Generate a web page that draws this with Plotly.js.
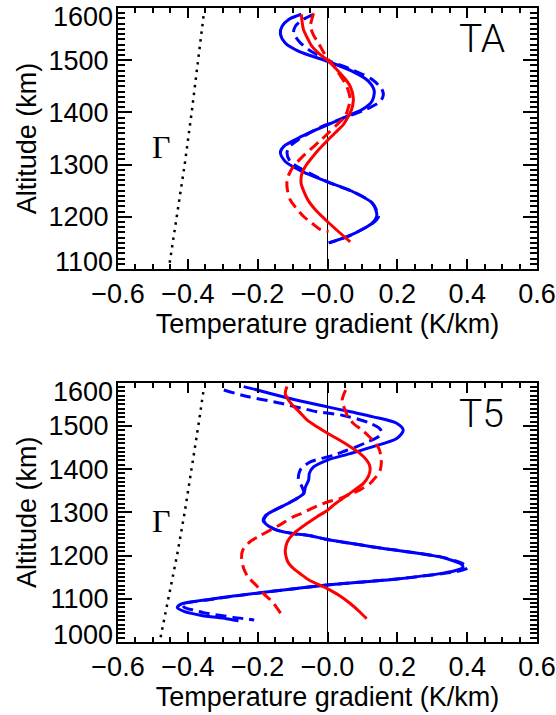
<!DOCTYPE html>
<html>
<head>
<meta charset="utf-8">
<script src="https://cdn.plot.ly/plotly-3.0.1.min.js"></script>
<style>
  html, body { margin: 0; padding: 0; background: #fff; }
  #chart { width: 556px; height: 715px; }
</style>
</head>
<body>
<div id="chart"></div>
<script>
// ---------- Panel TA (top) ----------
const taBlueSolidAlt = [1588,1578,1565,1551,1533,1517,1498,1479,1460,1441,1421,1405,1394,1376,1363,1351,1335,1323,1306,1287,1267,1249,1227,1212,1201,1188,1179,1163,1150];
const taBlueSolidX   = [-0.075,-0.111,-0.130,-0.135,-0.121,-0.082,0.0,0.070,0.117,0.134,0.127,0.098,0.060,0.0,-0.045,-0.083,-0.125,-0.135,-0.121,-0.073,0.0,0.070,0.127,0.139,0.141,0.128,0.108,0.060,0.003];

const taBlueDashAlt = [1588,1578,1565,1552,1535,1520,1498,1482,1463,1445,1434,1421,1405,1393,1381,1370,1348,1335,1323,1306,1290,1267,1249,1227,1212,1200,1188,1179,1163,1150];
const taBlueDashX   = [-0.040,-0.070,-0.092,-0.097,-0.080,-0.054,0.008,0.070,0.128,0.155,0.160,0.151,0.108,0.060,0.015,-0.026,-0.083,-0.108,-0.116,-0.107,-0.070,0.0,0.070,0.128,0.141,0.146,0.130,0.108,0.060,0.005];

const taRedSolidAlt = [1588,1575,1559,1543,1527,1513,1501,1479,1463,1450,1428,1413,1399,1388,1377,1361,1345,1329,1313,1297,1284,1270,1262,1246,1230,1210,1192,1169,1152];
const taRedSolidX   = [-0.075,-0.073,-0.069,-0.058,-0.045,-0.025,-0.002,0.031,0.052,0.065,0.074,0.072,0.065,0.056,0.046,0.022,-0.002,-0.025,-0.045,-0.063,-0.073,-0.076,-0.075,-0.066,-0.054,-0.030,-0.002,0.036,0.065];

const taRedDashAlt = [1590,1578,1565,1548,1533,1516,1501,1485,1476,1450,1425,1410,1393,1377,1361,1345,1329,1313,1297,1282,1271,1252,1233,1217,1201,1188,1176,1172];
const taRedDashX   = [-0.040,-0.045,-0.049,-0.040,-0.026,-0.012,0.003,0.022,0.031,0.055,0.065,0.060,0.051,0.028,0.003,-0.022,-0.049,-0.075,-0.097,-0.110,-0.116,-0.115,-0.107,-0.090,-0.069,-0.045,-0.021,0.003];

const taLapseAlt = [1112,1200,1300,1400,1500,1590];
const taLapseX   = [-0.452,-0.431,-0.409,-0.389,-0.370,-0.354];

// ---------- Panel T5 (bottom) ----------
const t5BlueSolidAlt = [1591,1583,1575,1560,1544,1532,1521,1506,1490,1471,1452,1436,1421,1405,1390,1375,1359,1344,1332,1321,1305,1292,1280,1268,1259,1251,1246,1237,1220,1197,1188,1180,1173,1166,1160,1146,1132,1122,1114,1099,1087,1079,1071,1062,1054,1049];
const t5BlueSolidX   = [-0.240,-0.200,-0.164,-0.090,0.0,0.070,0.131,0.198,0.217,0.198,0.131,0.065,0.0,-0.040,-0.052,-0.054,-0.063,-0.068,-0.088,-0.112,-0.152,-0.178,-0.184,-0.168,-0.145,-0.100,-0.049,0.0,0.131,0.322,0.360,0.383,0.388,0.370,0.335,0.200,0.0,-0.107,-0.192,-0.335,-0.421,-0.430,-0.411,-0.364,-0.290,-0.255];

const t5BlueDashAlt = [1583,1568,1556,1544,1533,1525,1515,1506,1495,1486,1475,1463,1452,1442,1432,1417,1405,1398,1385,1375,1359,1344,1332,1321,1305,1292,1280,1268,1259,1251,1246,1237,1220,1197,1188,1180,1172,1166,1160,1146,1132,1122,1114,1099,1087,1080,1074,1068,1062,1057,1053,1051];
const t5BlueDashX   = [-0.297,-0.230,-0.154,-0.090,-0.030,0.040,0.090,0.122,0.148,0.155,0.146,0.115,0.084,0.050,0.017,-0.049,-0.070,-0.078,-0.083,-0.083,-0.073,-0.068,-0.088,-0.112,-0.152,-0.176,-0.182,-0.166,-0.145,-0.100,-0.050,0.0,0.131,0.325,0.365,0.390,0.402,0.385,0.345,0.200,0.0,-0.107,-0.190,-0.330,-0.415,-0.410,-0.385,-0.355,-0.310,-0.270,-0.230,-0.210];

const t5RedSolidAlt = [1591,1575,1560,1548,1532,1514,1498,1483,1468,1452,1437,1421,1410,1398,1383,1367,1352,1336,1320,1305,1290,1274,1260,1251,1232,1212,1195,1182,1170,1158,1143,1124,1107,1089,1070,1054];
const t5RedSolidX   = [-0.116,-0.121,-0.112,-0.100,-0.080,-0.059,-0.030,0.0,0.033,0.065,0.092,0.112,0.120,0.122,0.117,0.103,0.078,0.050,0.022,0.0,-0.030,-0.059,-0.083,-0.097,-0.115,-0.121,-0.118,-0.111,-0.097,-0.078,-0.052,-0.002,0.035,0.065,0.092,0.112];

const t5RedDashAlt = [1583,1572,1560,1548,1534,1521,1505,1490,1475,1460,1446,1429,1413,1398,1383,1375,1367,1352,1344,1332,1324,1309,1297,1290,1274,1259,1245,1232,1212,1193,1170,1151,1132,1112,1095,1081,1066,1054];
const t5RedDashX   = [0.052,0.046,0.042,0.045,0.052,0.058,0.075,0.100,0.120,0.137,0.148,0.153,0.154,0.151,0.140,0.131,0.122,0.093,0.070,0.036,0.0,-0.045,-0.075,-0.097,-0.130,-0.164,-0.195,-0.222,-0.243,-0.246,-0.240,-0.228,-0.205,-0.183,-0.160,-0.147,-0.134,-0.128];

const t5LapseAlt = [1011,1100,1200,1300,1400,1500,1588];
const t5LapseX   = [-0.478,-0.455,-0.431,-0.409,-0.389,-0.370,-0.354];

// ---------- Axis ticks & labels ----------
const xTickVals = [-0.6,-0.4,-0.2,0.0,0.2,0.4,0.6];
const xTickText = ['\u22120.6','\u22120.4','\u22120.2','\u22120.0','0.2','0.4','0.6'];
const taYTickVals = [1100,1200,1300,1400,1500,1600];
const t5YTickVals = [1000,1100,1200,1300,1400,1500,1600];
const xTitle = 'Temperature gradient (K/km)';
const yTitle = 'Altitude (km)';
const panelNames = ['TA','T5'];
const gammaLabel = '\u0393';

const BLUE = '#0000ff', RED = '#ff0000';
const DASH = '11px,6px';
const DOTS = '2.5px,5.2px';

function curve(x, y, color, dash, ax, width, shape) {
  return {
    type: 'scatter', mode: 'lines', x: x, y: y,
    xaxis: ax[0], yaxis: ax[1],
    line: {color: color, width: width || 3, dash: dash || 'solid', shape: shape || 'spline', smoothing: 0.8},
    hoverinfo: 'skip'
  };
}

const axTop = ['x', 'y'], axBot = ['x2', 'y2'];
const traces = [
  curve(taLapseX, taLapseAlt, 'black', DOTS, axTop, 2.5, 'linear'),
  curve(taBlueDashX, taBlueDashAlt, BLUE, DASH, axTop),
  curve(taBlueSolidX, taBlueSolidAlt, BLUE, 'solid', axTop),
  curve(taRedDashX, taRedDashAlt, RED, DASH, axTop),
  curve(taRedSolidX, taRedSolidAlt, RED, 'solid', axTop),
  curve(t5LapseX, t5LapseAlt, 'black', DOTS, axBot, 2.5, 'linear'),
  curve(t5BlueDashX, t5BlueDashAlt, BLUE, DASH, axBot),
  curve(t5BlueSolidX, t5BlueSolidAlt, BLUE, 'solid', axBot),
  curve(t5RedDashX, t5RedDashAlt, RED, DASH, axBot),
  curve(t5RedSolidX, t5RedSolidAlt, RED, 'solid', axBot)
];

const FONT = 'Liberation Sans, Arial, Helvetica, sans-serif';
const tickFont = {family: FONT, size: 27, color: 'black'};
const panelFont = {family: 'Roboto, Liberation Sans, sans-serif', size: 39, weight: 300, color: 'black'};
const gammaFont = {family: 'Liberation Serif, DejaVu Serif, serif', size: 32, color: 'black'};

function xAxis(anchor) {
  return {
    anchor: anchor, domain: [0, 1], range: [-0.6, 0.6],
    tickmode: 'array', tickvals: xTickVals, ticktext: xTickText,
    ticks: 'inside', ticklen: 10, tickwidth: 1.5, tickcolor: 'black',
    minor: {dtick: 0.05, ticks: 'inside', ticklen: 5, tickwidth: 1.5, tickcolor: 'black'},
    mirror: 'allticks', showline: true, linewidth: 2, linecolor: 'black',
    showgrid: false, zeroline: true, zerolinecolor: 'black', zerolinewidth: 1,
    tickfont: tickFont, title: {text: xTitle, font: tickFont, standoff: 0}
  };
}
function yTickText(vals) { return vals.map((v, i) => (i === 0 || i === vals.length - 1) ? '' : String(v)); }
function yAxis(anchor, domain, vals) {
  return {
    anchor: anchor, domain: domain, range: [vals[0], vals[vals.length - 1]],
    tickmode: 'array', tickvals: vals, ticktext: yTickText(vals),
    ticks: 'inside', ticklen: 14, tickwidth: 1.5, tickcolor: 'black',
    minor: {dtick: 10, ticks: 'inside', ticklen: 7, tickwidth: 1.5, tickcolor: 'black'},
    mirror: 'allticks', showline: true, linewidth: 2, linecolor: 'black',
    showgrid: false, zeroline: false, ticklabelstandoff: 2,
    tickfont: tickFont, title: {text: yTitle, font: tickFont, standoff: 4}
  };
}
// end-of-axis labels are pulled inside the axis span, as in the original figure
function endLabel(xref, yref, y, shift) {
  return {xref: xref, yref: yref, x: -0.6, y: y, text: String(y), showarrow: false,
          xanchor: 'right', yanchor: 'middle', xshift: -3, yshift: shift, font: tickFont};
}

const layout = {
  width: 556, height: 715,
  margin: {l: 118, r: 19, t: 8, b: 73},
  paper_bgcolor: 'white', plot_bgcolor: 'rgba(0,0,0,0)',
  showlegend: false,
  font: {family: FONT, size: 27, color: 'black'},
  xaxis: xAxis('y'),
  yaxis: yAxis('x', [0.5883, 1], taYTickVals),
  xaxis2: xAxis('y2'),
  yaxis2: yAxis('x2', [0, 0.409], t5YTickVals),
  annotations: [
    {xref: 'x', yref: 'y', x: 0.442, y: 1541, text: panelNames[0], showarrow: false, font: panelFont},
    {xref: 'x2', yref: 'y2', x: 0.442, y: 1527, text: panelNames[1], showarrow: false, font: panelFont},
    {xref: 'x', yref: 'y', x: -0.475, y: 1334, text: gammaLabel, showarrow: false, font: gammaFont},
    {xref: 'x2', yref: 'y2', x: -0.475, y: 1280, text: gammaLabel, showarrow: false, font: gammaFont},
    endLabel('x', 'y', taYTickVals[taYTickVals.length - 1], -9),
    endLabel('x', 'y', taYTickVals[0], 7),
    endLabel('x2', 'y2', t5YTickVals[t5YTickVals.length - 1], -9),
    endLabel('x2', 'y2', t5YTickVals[0], 7)
  ]
};

Plotly.newPlot('chart', traces, layout, {displayModeBar: false});
</script>
</body>
</html>
